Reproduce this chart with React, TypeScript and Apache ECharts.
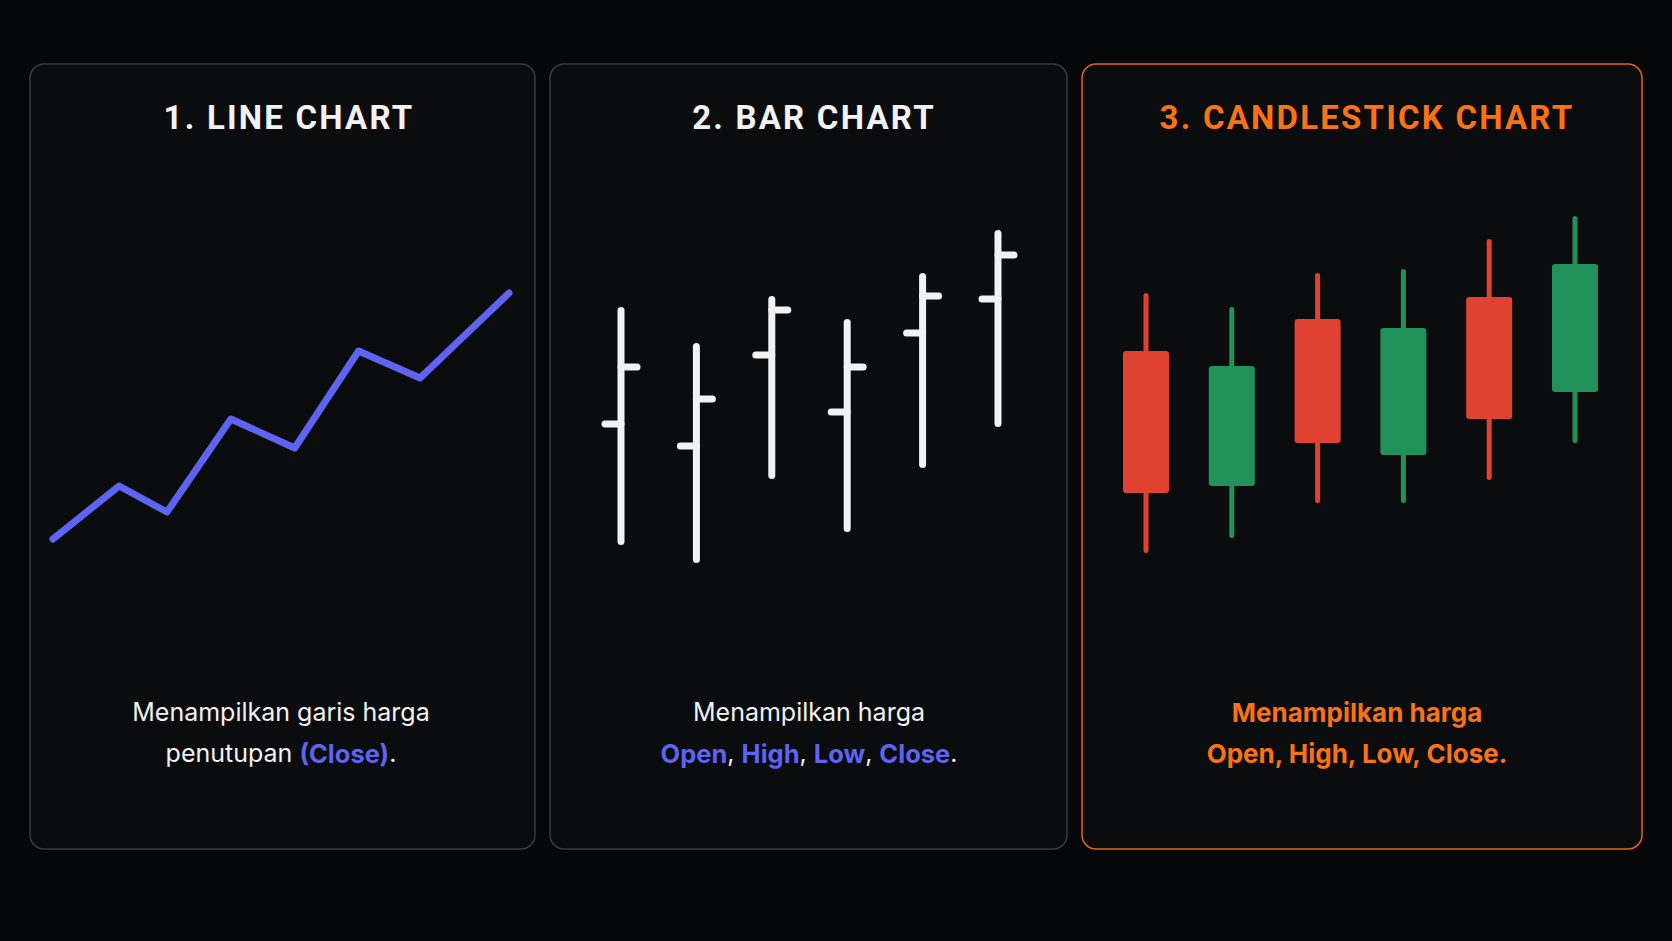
import React, { useEffect, useRef } from "react";
import * as echarts from "echarts";

// ---- Data ----
const titles = ["1. LINE CHART", "2. BAR CHART", "3. CANDLESTICK CHART"];

// Line chart: close prices (x position, close)
const lineX = [0, 14.5, 25, 39, 53, 67, 80.5, 100];
const lineClose = [15.25, 28.5, 22, 45.25, 38, 62.25, 55.5, 76.75];

// OHLC bar chart
const barCategories = ["1", "2", "3", "4", "5", "6"];
const barOpen = [44, 38.5, 61.25, 47, 66.75, 75.25];
const barClose = [58.25, 50.25, 72.5, 58.25, 76, 86.25];
const barLow = [14.6, 10.1, 31.1, 17.9, 33.9, 44.1];
const barHigh = [72.4, 63.4, 75.1, 69.4, 80.9, 91.6];

// Candlestick chart
const candleCategories = ["1", "2", "3", "4", "5", "6"];
const candleOpen = [62.25, 28.5, 70.25, 36.25, 75.75, 52];
const candleClose = [26.75, 58.5, 39.25, 68, 45.25, 84];
const candleLow = [12.4, 16.1, 24.9, 24.9, 30.6, 39.9];
const candleHigh = [76.1, 72.6, 81.1, 82.1, 89.6, 95.4];

// ---- Styles ----
const BG = "#060708";
const PANEL_BG = "#0b0c0e";
const PANEL_STROKE = "#3a3b3e";
const ORANGE = "#F97316";
const ORANGE_STROKE = "#E4640F";
const PURPLE = "#5E63F2";
const WHITE = "#F2F2F2";
const RED = "#E04232";
const GREEN = "#21915A";
const TEXT_FONT = "Inter, 'Noto Sans', sans-serif";
const TITLE_FONT = "Roboto, 'Noto Sans', sans-serif";

export default function App() {
  const ref = useRef<HTMLDivElement>(null);

  useEffect(() => {
    document.body.style.margin = "0";
    document.body.style.background = BG;
    if (!ref.current) return;
    const chart = echarts.init(ref.current, undefined, { renderer: "svg" });

    const barData = barCategories.map((_, i) => [i, barOpen[i], barClose[i], barLow[i], barHigh[i]]);
    const candleData = candleCategories.map((_, i) => [
      i,
      candleOpen[i],
      candleClose[i],
      candleLow[i],
      candleHigh[i],
    ]);

    const panels = [
      { x: 30, w: 505, stroke: PANEL_STROKE },
      { x: 550, w: 517, stroke: PANEL_STROKE },
      { x: 1082, w: 560, stroke: ORANGE_STROKE },
    ];

    const titleX = [289, 814, 1367];
    const titleColor = [WHITE, WHITE, ORANGE];

    const graphic: any[] = [];
    panels.forEach((p) => {
      graphic.push({
        type: "rect",
        z: 0,
        shape: { x: p.x, y: 64, width: p.w, height: 785, r: 14 },
        style: { fill: PANEL_BG, stroke: p.stroke, lineWidth: 1.5 },
      });
    });
    titles.forEach((t, i) => {
      graphic.push({
        type: "text",
        z: 1,
        x: titleX[i],
        y: 117,
        style: {
          text: t,
          fill: titleColor[i],
          font: `bold 33px ${TITLE_FONT}`,
          textAlign: "center",
          textVerticalAlign: "middle",
        },
      });
    });

    // descriptions
    const desc = [
      {
        x: 281,
        l1: "Menampilkan garis harga",
        l2: "penutupan {b|(Close)}.",
        color: WHITE,
        weight: "normal",
        size: 25,
      },
      {
        x: 809,
        l1: "Menampilkan harga",
        l2: "{b|Open}, {b|High}, {b|Low}, {b|Close}.",
        color: WHITE,
        weight: "normal",
        size: 25,
      },
      {
        x: 1357,
        l1: "Menampilkan harga",
        l2: "Open, High, Low, Close.",
        color: ORANGE,
        weight: "bold",
        size: 26,
      },
    ];
    desc.forEach((d) => {
      graphic.push({
        type: "text",
        z: 1,
        x: d.x,
        y: 712,
        style: {
          text: d.l1,
          fill: d.color,
          fontSize: d.size,
          fontWeight: d.weight,
          fontFamily: TEXT_FONT,
          textAlign: "center",
          textVerticalAlign: "middle",
        },
      });
      graphic.push({
        type: "text",
        z: 1,
        x: d.x,
        y: 753,
        style: {
          text: d.l2,
          fill: d.color,
          fontSize: d.size,
          fontWeight: d.weight,
          fontFamily: TEXT_FONT,
          textAlign: "center",
          textVerticalAlign: "middle",
          rich: {
            b: {
              fill: PURPLE,
              fontWeight: "bold",
              fontSize: 25.5,
              fontFamily: TEXT_FONT,
            },
          },
        },
      });
    });

    const option: any = {
      animation: false,
      backgroundColor: BG,
      graphic,
      grid: [
        { left: 53, top: 200, width: 456, height: 400 },
        { left: 583.3, top: 200, width: 452.4, height: 400 },
        { left: 1103.1, top: 200, width: 514.8, height: 400 },
      ],
      xAxis: [
        { type: "value", gridIndex: 0, min: 0, max: 100, show: false },
        { type: "category", gridIndex: 1, data: barCategories, show: false },
        { type: "category", gridIndex: 2, data: candleCategories, show: false },
      ],
      yAxis: [
        { type: "value", gridIndex: 0, min: 0, max: 100, show: false },
        { type: "value", gridIndex: 1, min: 0, max: 100, show: false },
        { type: "value", gridIndex: 2, min: 0, max: 100, show: false },
      ],
      series: [
        {
          type: "line",
          xAxisIndex: 0,
          yAxisIndex: 0,
          data: lineX.map((x, i) => [x, lineClose[i]]),
          showSymbol: false,
          symbol: "none",
          clip: false,
          z: 5,
          lineStyle: { color: PURPLE, width: 7, cap: "round", join: "round" },
        },
        {
          type: "custom",
          xAxisIndex: 1,
          yAxisIndex: 1,
          data: barData,
          encode: { x: 0, y: [1, 2, 3, 4] },
          clip: false,
          z: 5,
          renderItem: (params: any, api: any) => {
            const i = api.value(0);
            const o = api.coord([i, api.value(1)]);
            const c = api.coord([i, api.value(2)]);
            const l = api.coord([i, api.value(3)]);
            const h = api.coord([i, api.value(4)]);
            const x = o[0];
            const st = { stroke: WHITE, lineWidth: 7, lineCap: "round" };
            return {
              type: "group",
              children: [
                { type: "line", shape: { x1: x, y1: h[1], x2: x, y2: l[1] }, style: st },
                { type: "line", shape: { x1: x - 16, y1: o[1], x2: x, y2: o[1] }, style: st },
                { type: "line", shape: { x1: x, y1: c[1], x2: x + 16, y2: c[1] }, style: st },
              ],
            };
          },
        },
        {
          type: "custom",
          xAxisIndex: 2,
          yAxisIndex: 2,
          data: candleData,
          encode: { x: 0, y: [1, 2, 3, 4] },
          clip: false,
          z: 5,
          renderItem: (params: any, api: any) => {
            const i = api.value(0);
            const ov = api.value(1);
            const cv = api.value(2);
            const o = api.coord([i, ov]);
            const c = api.coord([i, cv]);
            const l = api.coord([i, api.value(3)]);
            const h = api.coord([i, api.value(4)]);
            const x = o[0];
            const color = cv >= ov ? GREEN : RED;
            const top = Math.min(o[1], c[1]);
            const bh = Math.abs(o[1] - c[1]);
            return {
              type: "group",
              children: [
                {
                  type: "line",
                  shape: { x1: x, y1: h[1], x2: x, y2: l[1] },
                  style: { stroke: color, lineWidth: 5, lineCap: "round" },
                },
                {
                  type: "rect",
                  shape: { x: x - 23, y: top, width: 46, height: bh, r: 3 },
                  style: { fill: color },
                },
              ],
            };
          },
        },
      ],
    };

    chart.setOption(option);
    return () => chart.dispose();
  }, []);

  return (
    <>
      <style>{`text[style*="33px"]{letter-spacing:2.2px;}`}</style>
      <div ref={ref} style={{ width: 1672, height: 941, background: BG }} />
    </>
  );
}
